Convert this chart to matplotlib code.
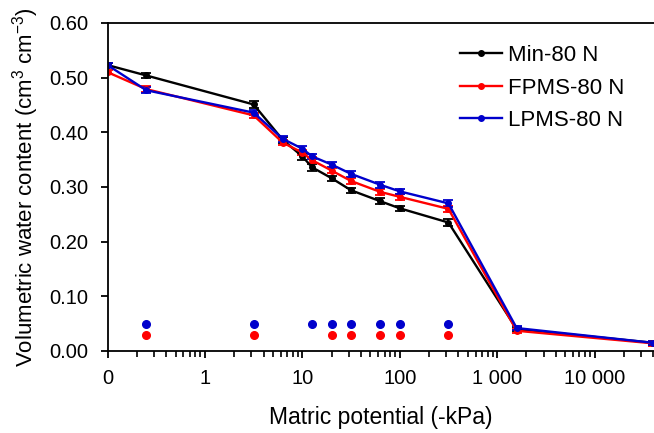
import numpy as np
import matplotlib.pyplot as plt
from matplotlib.ticker import FixedLocator, NullFormatter

plt.rcParams['font.family'] = ['Liberation Sans', 'DejaVu Sans']

# matric potential (-kPa); 0 is drawn at the left end of the log axis
potential = [0, 0.25, 3.16, 6.31, 10, 12.6, 20, 31.6, 63.1, 100, 316, 1585, 39811]

min_80 = [0.523, 0.504, 0.451, 0.386, 0.356, 0.336, 0.316, 0.294, 0.274, 0.261, 0.235, 0.040, 0.015]
min_err = [0.004, 0.005, 0.006, 0.005, 0.006, 0.006, 0.005, 0.005, 0.005, 0.005, 0.006, 0.004, 0.004]
fpms_80 = [0.510, 0.479, 0.431, 0.381, 0.363, 0.349, 0.330, 0.311, 0.291, 0.282, 0.260, 0.037, 0.014]
fpms_err = [0.004, 0.005, 0.005, 0.005, 0.005, 0.005, 0.005, 0.005, 0.005, 0.005, 0.006, 0.004, 0.004]
lpms_80 = [0.523, 0.477, 0.436, 0.388, 0.370, 0.356, 0.341, 0.324, 0.304, 0.292, 0.270, 0.042, 0.015]
lpms_err = [0.004, 0.005, 0.005, 0.005, 0.005, 0.005, 0.005, 0.005, 0.005, 0.005, 0.006, 0.004, 0.004]

# significance markers
sig_lpms = [0.25, 3.16, 12.6, 20, 31.6, 63.1, 100, 316]
sig_fpms = [0.25, 3.16, 20, 31.6, 63.1, 100, 316]

x_ticks = [0.1, 1, 10, 100, 1000, 10000]
x_ticklabels = ['0', '1', '10', '100', '1 000', '10 000']

x = np.where(np.array(potential) == 0, 0.1, potential)

fig = plt.figure(figsize=(6.54, 4.33), dpi=100)
ax = fig.add_axes([0.1644, 0.1894, 0.8356, 0.7575])

series = [(min_80, min_err, 'black', 'Min-80 N'),
          (fpms_80, fpms_err, '#ff0000', 'FPMS-80 N'),
          (lpms_80, lpms_err, '#0000cc', 'LPMS-80 N')]
handles = []
for y, err, c, lab in series:
    cont = ax.errorbar(x, y, yerr=err, color=c, lw=1.7, marker='o', ms=4,
                       capsize=3.5, capthick=1.3, elinewidth=1.3, label=lab)
    handles.append(cont[0])

ax.plot(sig_lpms, [0.05] * len(sig_lpms), 'o', color='#0000cc', ms=5.5)
ax.plot(sig_fpms, [0.03] * len(sig_fpms), 'o', color='#ff0000', ms=5.5)

ax.set_xscale('log')
ax.set_xlim(0.1, 10 ** 4.61)
ax.set_ylim(0, 0.6)
ax.set_yticks(np.arange(0, 0.61, 0.1))
ax.set_yticklabels(['%.2f' % v for v in np.arange(0, 0.61, 0.1)])
ax.xaxis.set_major_locator(FixedLocator(x_ticks))
ax.set_xticklabels(x_ticklabels)
minors = [m * 10.0 ** e for e in range(-1, 5) for m in range(2, 10)]
ax.xaxis.set_minor_locator(FixedLocator(minors))
ax.xaxis.set_minor_formatter(NullFormatter())

ax.tick_params(axis='both', which='major', direction='out', length=5, width=1.3,
               labelsize=14.5)
ax.tick_params(axis='y', which='major', pad=9)
ax.tick_params(axis='x', which='major', pad=8)
ax.tick_params(axis='x', which='minor', direction='out', length=4, width=1.2)
ax.spines['right'].set_visible(False)
for s in ['left', 'bottom', 'top']:
    ax.spines[s].set_linewidth(1.3)

ax.set_xlabel('Matric potential (-kPa)', fontsize=16.5, labelpad=13)
ax.set_ylabel('Volumetric water content (cm$\\mathregular{^{3}}$ cm$\\mathregular{^{-3}}$)',
              fontsize=16, labelpad=6)

ax.legend(handles, [s[3] for s in series], loc='upper left', bbox_to_anchor=(0.629, 0.96),
          frameon=False, fontsize=16, handlelength=1.9, handletextpad=0.25,
          labelspacing=0.52, borderaxespad=0)

fig.savefig('out.png', dpi=100)
